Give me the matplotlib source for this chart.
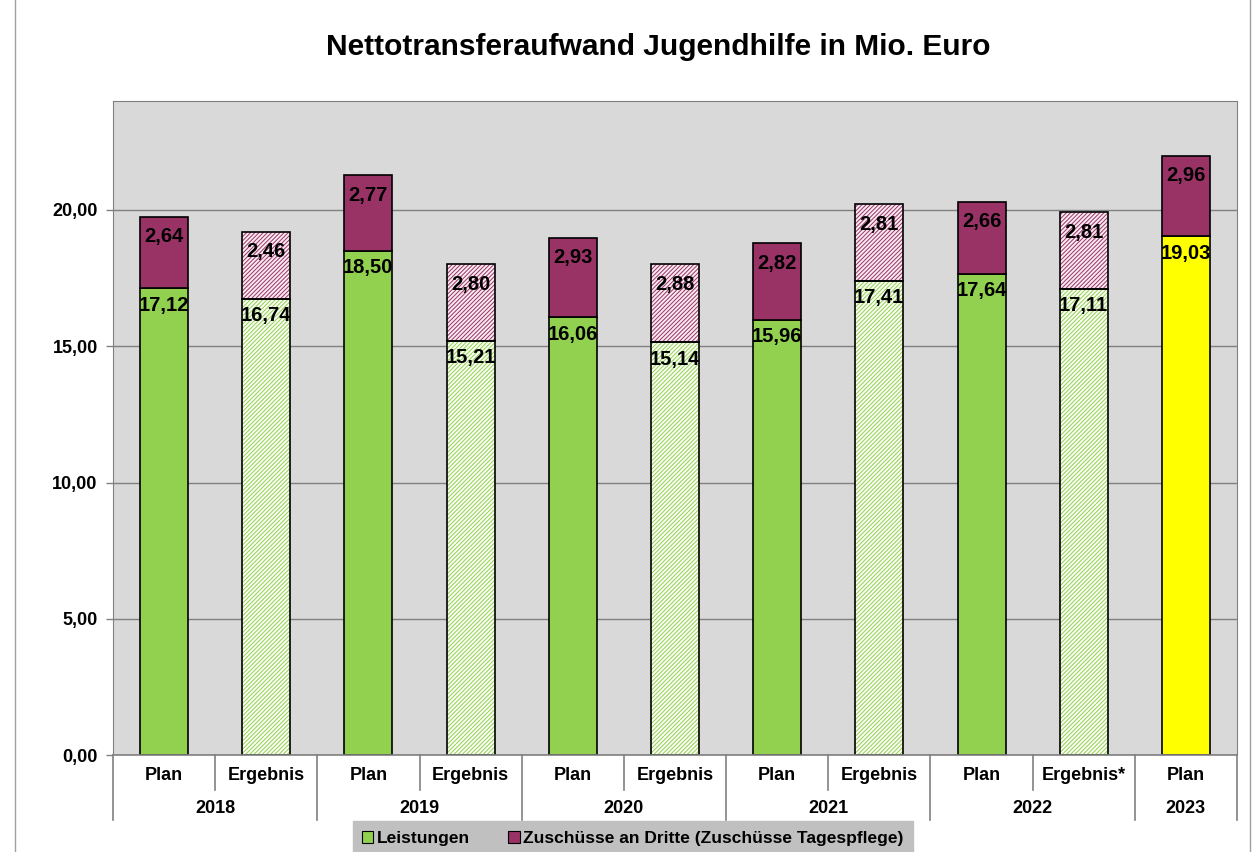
import numpy as np
import matplotlib
matplotlib.use('Agg')
import matplotlib.pyplot as plt
from matplotlib.patches import Patch
from matplotlib.lines import Line2D

plt.rcParams['font.family'] = ['Liberation Sans', 'DejaVu Sans']
plt.rcParams['font.weight'] = 'bold'
plt.rcParams['hatch.linewidth'] = 0.7

# data
years = ['2018', '2019', '2020', '2021', '2022', '2023']
kinds = ['Plan', 'Ergebnis', 'Plan', 'Ergebnis', 'Plan', 'Ergebnis',
         'Plan', 'Ergebnis', 'Plan', 'Ergebnis*', 'Plan']
leistungen = [17.12, 16.74, 18.50, 15.21, 16.06, 15.14, 15.96, 17.41, 17.64, 17.11, 19.03]
zuschuesse = [2.64, 2.46, 2.77, 2.80, 2.93, 2.88, 2.82, 2.81, 2.66, 2.81, 2.96]

green = '#92D050'
purple = '#993366'
yellow = '#FFFF00'

fig = plt.figure(figsize=(12.58, 8.52), dpi=100)
ax = fig.add_axes([0.0898, 0.1138, 0.8935, 0.7677])
ax.set_facecolor('#D9D9D9')

x = np.arange(len(kinds))
w = 0.47
for i in x:
    ist = kinds[i].startswith('Ergebnis')
    lc = green if i < len(kinds) - 1 else yellow
    if ist:
        ax.bar(i, leistungen[i], w, color='#FAFDF5', edgecolor=green, hatch='////////', linewidth=0)
        ax.bar(i, zuschuesse[i], w, bottom=leistungen[i], color='#F8EAF0',
               edgecolor=purple, hatch='////////', linewidth=0)
        ax.bar(i, leistungen[i], w, color='none', edgecolor='black', linewidth=1.2)
        ax.bar(i, zuschuesse[i], w, bottom=leistungen[i], color='none', edgecolor='black', linewidth=1.2)
    else:
        ax.bar(i, leistungen[i], w, color=lc, edgecolor='black', linewidth=1.2)
        ax.bar(i, zuschuesse[i], w, bottom=leistungen[i], color=purple, edgecolor='black', linewidth=1.2)
    ax.annotate(f'{leistungen[i]:.2f}'.replace('.', ','), (i, leistungen[i]), xytext=(0, -12),
                textcoords='offset points', ha='center', va='center', fontsize=14.5, fontweight='bold')
    top = leistungen[i] + zuschuesse[i]
    ax.annotate(f'{zuschuesse[i]:.2f}'.replace('.', ','), (i, top), xytext=(0, -14.5),
                textcoords='offset points', ha='center', va='center', fontsize=14.5, fontweight='bold')

ax.set_xlim(-0.5, len(kinds) - 0.5)
ax.set_ylim(0, 24)
ax.set_yticks([0, 5, 10, 15, 20])
ax.set_yticklabels([f'{v:.2f}'.replace('.', ',') for v in [0, 5, 10, 15, 20]], fontsize=13)
ax.yaxis.grid(True, color='#808080', linewidth=1)
ax.set_axisbelow(True)
ax.tick_params(axis='y', length=5, width=1, color='#808080', pad=6)
ax.set_xticks([])
for s in ['top', 'right', 'left']:
    ax.spines[s].set_color('#808080')
ax.spines['bottom'].set_color('#808080')
ax.spines['bottom'].set_linewidth(1.2)

# category axis labels
trans = ax.get_xaxis_transform()
for i in x:
    ax.text(i, -0.031, kinds[i], transform=trans, ha='center', va='center', fontsize=13)
for k, yr in enumerate(years):
    cx = 2 * k + 0.5 if k < 5 else 10
    ax.text(cx, -0.081, yr, transform=trans, ha='center', va='center', fontsize=13)
for b in [-0.5, 1.5, 3.5, 5.5, 7.5, 9.5, 10.5]:
    ax.add_line(Line2D([b, b], [0, -0.099], transform=trans, color='#808080', lw=1.2, clip_on=False))
for b in [0.5, 2.5, 4.5, 6.5, 8.5]:
    ax.add_line(Line2D([b, b], [0, -0.054], transform=trans, color='#808080', lw=1.2, clip_on=False))

fig.text(0.523, 0.945, 'Nettotransferaufwand Jugendhilfe in Mio. Euro', ha='center', va='center',
         fontsize=21.5, fontweight='bold')

handles = [Patch(facecolor=green, edgecolor='black', linewidth=0.8),
           Patch(facecolor=purple, edgecolor='black', linewidth=0.8)]
leg = fig.legend(handles, ['Leistungen', 'Zuschüsse an Dritte (Zuschüsse Tagespflege)'],
                 loc='upper center', bbox_to_anchor=(0.503, 0.036), ncol=2, frameon=True,
                 fancybox=False, facecolor='#C0C0C0', edgecolor='#C0C0C0', framealpha=1,
                 handlelength=0.65, handleheight=0.65, handletextpad=0.2, columnspacing=2.2,
                 borderpad=0.55, borderaxespad=0, prop={'size': 12.5, 'weight': 'bold'})

# outer frame of chart area
fig.add_artist(Line2D([0.012, 0.012], [0, 1], transform=fig.transFigure, color='#A0A0A0', lw=1))
fig.add_artist(Line2D([0.994, 0.994], [0, 1], transform=fig.transFigure, color='#A0A0A0', lw=1))

fig.savefig('out.png', dpi=100)
